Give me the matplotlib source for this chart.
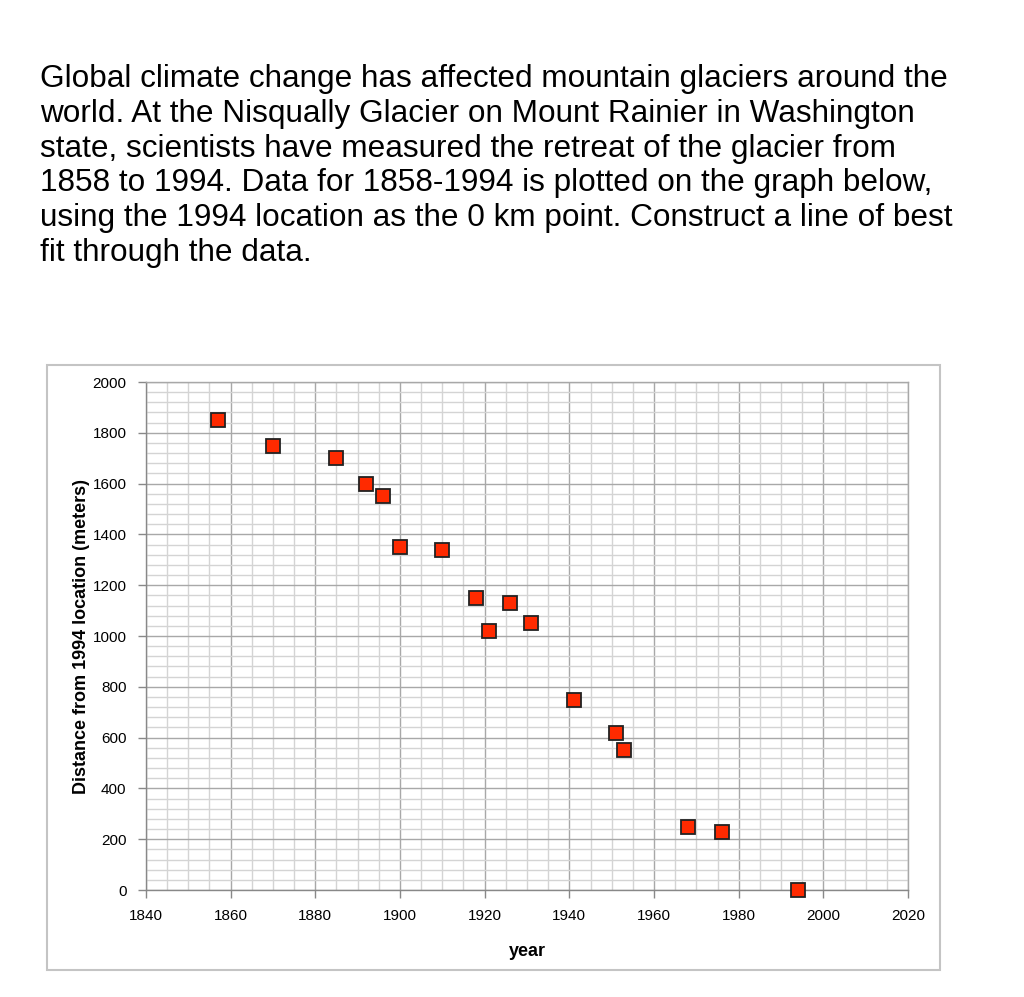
import matplotlib
matplotlib.use("Agg")
import matplotlib.pyplot as plt
from matplotlib.patches import Rectangle
from matplotlib.ticker import MultipleLocator

plt.rcParams["font.family"] = ["Liberation Sans", "DejaVu Sans"]

# Data
years = [1857, 1870, 1885, 1892, 1896, 1900, 1910, 1918, 1921, 1926, 1931,
         1941, 1951, 1953, 1968, 1976, 1994]
distance = [1850, 1750, 1700, 1600, 1550, 1350, 1340, 1150, 1020, 1130, 1050,
            750, 620, 550, 250, 230, 0]

intro = ("Global climate change has affected mountain glaciers around the\n"
         "world. At the Nisqually Glacier on Mount Rainier in Washington\n"
         "state, scientists have measured the retreat of the glacier from\n"
         "1858 to 1994. Data for 1858-1994 is plotted on the graph below,\n"
         "using the 1994 location as the 0 km point. Construct a line of best\n"
         "fit through the data.")

fig = plt.figure(figsize=(10.24, 9.97), dpi=100)

fig.text(40 / 1024, 1 - 64 / 997, intro, ha="left", va="top",
         fontsize=22.7, linespacing=1.21)

# light frame around the chart
fig.patches.append(Rectangle((47 / 1024, 1 - 970 / 997), 893 / 1024, 605 / 997,
                             transform=fig.transFigure, fill=False,
                             edgecolor="#c4c4c4", linewidth=1.5))

ax = fig.add_axes([146 / 1024, 1 - 890 / 997, 762 / 1024, 508 / 997])
ax.plot(years, distance, linestyle="none", marker="s", markersize=10,
        markerfacecolor="#ff2a00", markeredgecolor="#222222",
        markeredgewidth=1.3, zorder=5, clip_on=False)

ax.set_xlim(1840, 2020)
ax.set_ylim(0, 2000)
ax.xaxis.set_major_locator(MultipleLocator(20))
ax.xaxis.set_minor_locator(MultipleLocator(5))
ax.yaxis.set_major_locator(MultipleLocator(200))
ax.yaxis.set_minor_locator(MultipleLocator(40))
ax.grid(which="major", color="#a8a8a8", linewidth=1.0)
ax.grid(which="minor", color="#d4d4d4", linewidth=1.0)
ax.set_axisbelow(True)

for s in ax.spines.values():
    s.set_color("#a8a8a8")
    s.set_linewidth(1.0)
ax.spines["left"].set_color("#888888")
ax.spines["bottom"].set_color("#888888")

ax.tick_params(which="major", length=6, width=1, color="#888888",
               labelsize=11, pad=8)
ax.tick_params(which="minor", length=0)

ax.set_xlabel("year", fontsize=13, fontweight="bold", labelpad=14)
ax.set_ylabel("Distance from 1994 location (meters)", fontsize=13,
              fontweight="bold", labelpad=2)

fig.savefig("out.png", dpi=100)
